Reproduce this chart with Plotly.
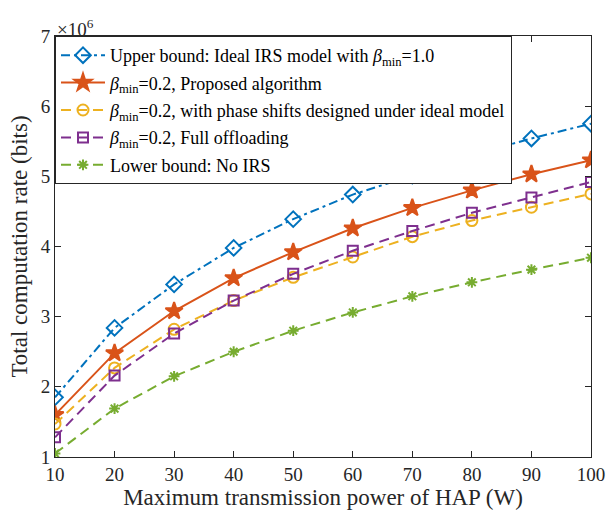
import plotly.graph_objects as go

power = [10, 20, 30, 40, 50, 60, 70, 80, 90, 100]
upper = [1.85, 2.84, 3.46, 3.98, 4.39, 4.74, 5.01, 5.30, 5.54, 5.75]
proposed = [1.60, 2.48, 3.08, 3.55, 3.92, 4.26, 4.55, 4.80, 5.03, 5.23]
ideal_design = [1.47, 2.27, 2.82, 3.23, 3.56, 3.85, 4.14, 4.37, 4.56, 4.75]
full_off = [1.28, 2.16, 2.76, 3.23, 3.61, 3.94, 4.22, 4.48, 4.70, 4.92]
no_irs = [1.05, 1.69, 2.15, 2.50, 2.80, 3.06, 3.29, 3.49, 3.67, 3.84]

SERIF = "Liberation Serif"
B = "<i>β</i><sub>min</sub>"
DASH = "10px,6px"
DASHDOT = "9px,4px,3px,4px"
series = [
    ("Upper bound: Ideal IRS model with " + B + "=1.0", upper, "#0072BD", DASHDOT, "diamond-open", 12),
    (B + "=0.2, Proposed algorithm", proposed, "#D95319", "solid", "star", 13),
    (B + "=0.2, with phase shifts designed under ideal model", ideal_design, "#EDB120", DASH, "circle-open", 11),
    (B + "=0.2, Full offloading", full_off, "#7E2F8E", DASH, "square-open", 10),
    ("Lower bound: No IRS", no_irs, "#77AC30", DASH, "asterisk-open", 9),
]

fig = go.Figure()
for i, (name, vals, col, dash, sym, sz) in enumerate(series):
    fig.add_trace(go.Scatter(
        x=power, y=vals, name=name, mode="lines+markers", legendgroup="g%d" % i,
        line=dict(color=col, width=2, dash=dash),
        marker=dict(symbol=sym, size=sz, color=col, line=dict(color=col, width=2)),
    ))

axis_common = dict(showline=True, linecolor="#262626", linewidth=1, mirror="ticks",
                   ticks="inside", ticklen=6, tickcolor="#262626", showgrid=False,
                   zeroline=False, automargin=False,
                   tickfont=dict(family=SERIF, size=19, color="#262626"))

fig.update_layout(
    width=608, height=512,
    margin=dict(l=55, r=17, t=36, b=55),
    paper_bgcolor="white", plot_bgcolor="white",
    font=dict(family=SERIF, color="#262626"),
    xaxis=dict(range=[10, 100], tickvals=[10, 20, 30, 40, 50, 60, 70, 80, 90, 100],
               title=dict(text="Maximum transmission power of HAP (W)", font=dict(family=SERIF, size=23), standoff=2),
               **axis_common),
    yaxis=dict(range=[1, 7], tickvals=[1, 2, 3, 4, 5, 6, 7],
               title=dict(text="Total computation rate (bits)", font=dict(family=SERIF, size=23), standoff=6),
               **axis_common),
    legend=dict(x=0.0, y=1.0, xanchor="left", yanchor="top",
                bgcolor="white", bordercolor="#262626", borderwidth=1,
                font=dict(family=SERIF, size=18, color="black"),
                traceorder="grouped", tracegroupgap=1, itemwidth=44),
    showlegend=True,
)
fig.add_annotation(x=0, y=1.0, xref="paper", yref="paper", xanchor="left", yanchor="bottom",
                   text="×10<sup>6</sup>", showarrow=False,
                   font=dict(family=SERIF, size=19, color="#262626"), yshift=-6)

fig.write_html("out.html")
